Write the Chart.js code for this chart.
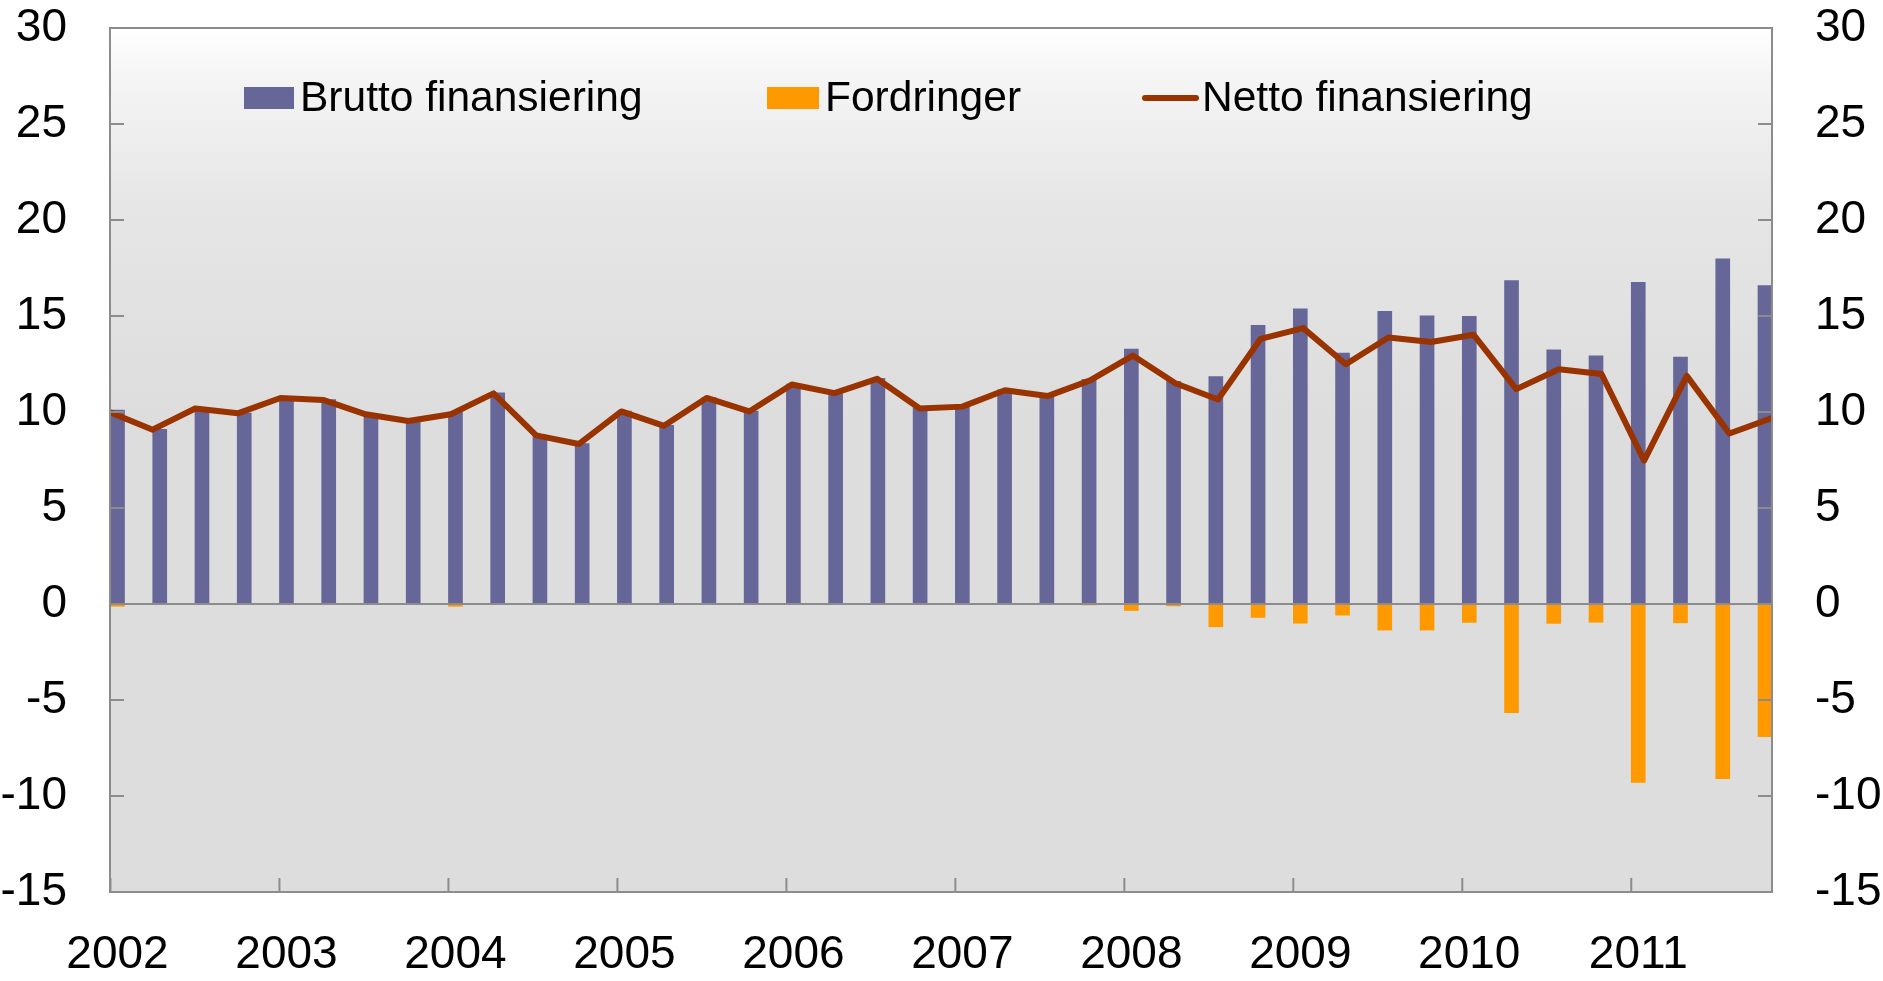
<!DOCTYPE html>
<html><head><meta charset="utf-8">
<script src="https://cdn.jsdelivr.net/npm/chart.js@4.4.1/dist/chart.umd.min.js"></script>
<style>html,body{margin:0;padding:0;background:#fff}canvas{display:block}</style>
</head><body>
<canvas id="c" width="1883" height="981"></canvas>
<script>
const quarters = ['2002K1','2002K2','2002K3','2002K4','2003K1','2003K2','2003K3','2003K4',
  '2004K1','2004K2','2004K3','2004K4','2005K1','2005K2','2005K3','2005K4',
  '2006K1','2006K2','2006K3','2006K4','2007K1','2007K2','2007K3','2007K4',
  '2008K1','2008K2','2008K3','2008K4','2009K1','2009K2','2009K3','2009K4',
  '2010K1','2010K2','2010K3','2010K4','2011K1','2011K2','2011K3','2011K4'];
const yearLabels = ['2002','2003','2004','2005','2006','2007','2008','2009','2010','2011'];
const yTicks = [-15,-10,-5,0,5,10,15,20,25,30];

const brutto = [10.1, 9.1, 10.2, 9.95, 10.75, 10.65, 9.9, 9.55,
  10.0, 11.0, 8.8, 8.35, 10.05, 9.3, 10.75, 10.05,
  11.45, 11.0, 11.75, 10.2, 10.3, 11.15, 10.85, 11.7,
  13.28, 11.6, 11.84, 14.51, 15.37, 13.07, 15.24, 15.01,
  14.98, 16.85, 13.24, 12.93, 16.76, 12.86, 17.98, 16.59];
const fordringer = [-0.12, -0.02, -0.02, -0.02, -0.02, -0.02, -0.02, -0.02,
  -0.12, -0.03, -0.02, -0.02, -0.02, -0.02, -0.02, -0.02,
  -0.02, -0.02, -0.02, -0.02, -0.02, -0.02, -0.02, -0.05,
  -0.34, -0.1, -1.19, -0.7, -1.0, -0.58, -1.36, -1.36,
  -0.96, -5.66, -1.01, -0.95, -9.29, -0.98, -9.1, -6.91];
const netto = [9.98, 9.08, 10.18, 9.93, 10.73, 10.63, 9.88, 9.53,
  9.88, 10.97, 8.78, 8.33, 10.03, 9.28, 10.73, 10.03,
  11.43, 10.98, 11.73, 10.18, 10.28, 11.13, 10.83, 11.65,
  12.94, 11.5, 10.65, 13.81, 14.37, 12.49, 13.88, 13.65,
  14.02, 11.19, 12.23, 11.98, 7.47, 11.88, 8.88, 9.68];

const seriesNames = ['Brutto finansiering','Fordringer','Netto finansiering'];
const colors = ['#666699','#ff9900','#993300'];
const FONT = '"Liberation Sans", Arial, sans-serif';
const BAR_W = 14;

const pts = arr => arr.map((v,i) => ({x:i, y:v}));
const noPad = s => { s.paddingTop = 0; s.paddingBottom = 0; s.paddingLeft = 0; s.paddingRight = 0; };

const decor = {
  id:'decor',
  beforeDatasetsDraw(chart){
    const {ctx, chartArea:a} = chart;
    const g = ctx.createLinearGradient(0, a.top, 0, a.top + 0.45*(a.bottom-a.top));
    g.addColorStop(0,'#ffffff');
    g.addColorStop(0.12,'#f5f5f5');
    g.addColorStop(0.45,'#e6e6e6');
    g.addColorStop(1,'#dddddd');
    ctx.save();
    ctx.fillStyle = g;
    ctx.fillRect(a.left, a.top, a.right-a.left, a.bottom-a.top);
    ctx.restore();
  },
  afterDatasetsDraw(chart){
    const {ctx, chartArea:a, scales} = chart;
    const y = scales.y, x = scales.x;
    ctx.save();
    ctx.strokeStyle = '#8c8c8c';
    ctx.lineWidth = 2;
    const y0 = y.getPixelForValue(0);
    ctx.beginPath(); ctx.moveTo(a.left, y0); ctx.lineTo(a.right, y0); ctx.stroke();
    yTicks.forEach(v => {
      const py = y.getPixelForValue(v);
      ctx.beginPath(); ctx.moveTo(a.left, py); ctx.lineTo(a.left+14, py); ctx.stroke();
      ctx.beginPath(); ctx.moveTo(a.right-14, py); ctx.lineTo(a.right, py); ctx.stroke();
    });
    yearLabels.forEach((lab,k) => {
      const px = x.getPixelForValue(4*k) - BAR_W/2;
      ctx.beginPath(); ctx.moveTo(px, a.bottom); ctx.lineTo(px, a.bottom-14); ctx.stroke();
    });
    ctx.strokeRect(a.left, a.top, a.right-a.left, a.bottom-a.top);
    ctx.restore();
  },
  afterDraw(chart){
    const {ctx} = chart;
    ctx.save();
    ctx.font = '42.5px ' + FONT;
    ctx.textBaseline = 'alphabetic';
    ctx.fillStyle = colors[0]; ctx.fillRect(244, 87, 50, 22);
    ctx.fillStyle = '#000'; ctx.fillText(seriesNames[0], 300, 111);
    ctx.fillStyle = colors[1]; ctx.fillRect(767, 87, 52, 22);
    ctx.fillStyle = '#000'; ctx.fillText(seriesNames[1], 825, 111);
    ctx.strokeStyle = colors[2]; ctx.lineWidth = 6; ctx.lineCap = 'round';
    ctx.beginPath(); ctx.moveTo(1145, 98); ctx.lineTo(1196, 98); ctx.stroke();
    ctx.fillStyle = '#000'; ctx.fillText(seriesNames[2], 1202, 111);
    ctx.restore();
  }
};

new Chart(document.getElementById('c'), {
  type: 'bar',
  data: {
    labels: quarters,
    datasets: [
      { type:'line', label: seriesNames[2], data: pts(netto), xAxisID:'x2', yAxisID:'y',
        borderColor: colors[2], borderWidth: 6, pointRadius: 0, tension: 0,
        borderJoinStyle:'round', order: 0 },
      { label: seriesNames[0], data: pts(brutto), xAxisID:'x', yAxisID:'y',
        backgroundColor: colors[0], barThickness: BAR_W, grouped: false, order: 2 },
      { label: seriesNames[1], data: pts(fordringer), xAxisID:'x', yAxisID:'y',
        backgroundColor: colors[1], barThickness: BAR_W, grouped: false, order: 1 }
    ]
  },
  options: {
    responsive: false,
    devicePixelRatio: 1,
    animation: false,
    layout: { padding: { top: 28, left: 0, right: 0, bottom: 0 } },
    plugins: { legend: { display: false }, tooltip: { enabled: false } },
    scales: {
      x: {
        type: 'linear', position: 'bottom', offset: false,
        min: -0.1775, max: 39.166,
        afterBuildTicks: s => { s.ticks = yearLabels.map((l,k) => ({value: 4*k})); },
        afterFit: s => { s.height = 89; noPad(s); },
        ticks: { autoSkip: false, maxRotation: 0, padding: 36, color: '#000',
          font: { size: 46, family: FONT },
          callback: (v, i) => yearLabels[i] },
        grid: { display: false, drawTicks: false, offset: false },
        border: { display: false }
      },
      x2: {
        type: 'linear', display: false, offset: false, min: 0, max: 39
      },
      y: {
        position: 'left', min: -15, max: 30,
        afterBuildTicks: s => { s.ticks = yTicks.map(v => ({value: v})); },
        afterFit: s => { s.width = 110; noPad(s); },
        ticks: { padding: 43, color: '#000', font: { size: 46, family: FONT } },
        grid: { display: false, drawTicks: false },
        border: { display: false }
      },
      y2: {
        position: 'right', min: -15, max: 30,
        afterBuildTicks: s => { s.ticks = yTicks.map(v => ({value: v})); },
        afterFit: s => { s.width = 111; noPad(s); },
        ticks: { padding: 43, color: '#000', font: { size: 46, family: FONT } },
        grid: { display: false, drawTicks: false },
        border: { display: false }
      }
    }
  },
  plugins: [decor]
});
</script>
</body></html>
